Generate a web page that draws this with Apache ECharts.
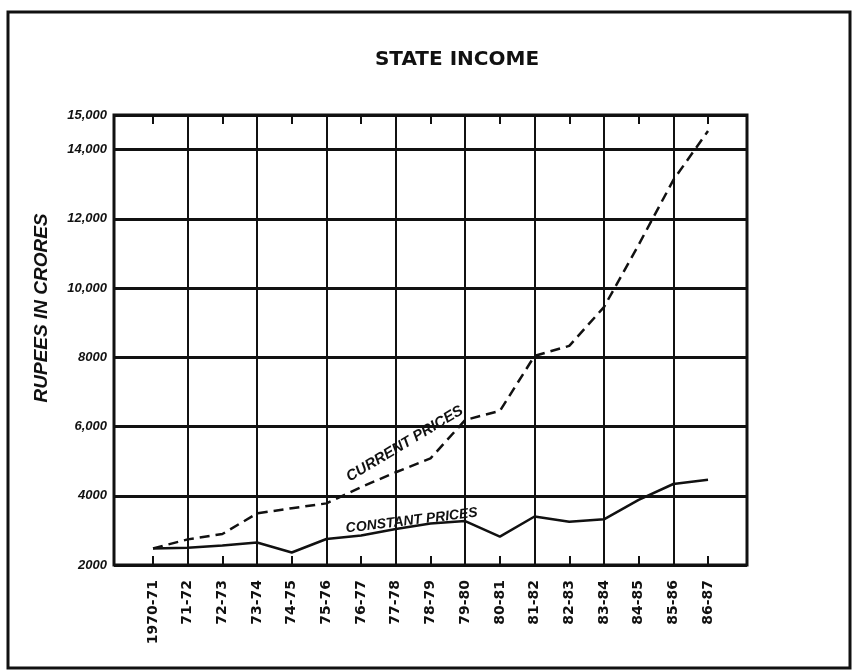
<!DOCTYPE html>
<html>
<head>
<meta charset="utf-8">
<script src="https://cdn.jsdelivr.net/npm/echarts@6/dist/echarts.min.js"></script>
<style>
html,body{margin:0;padding:0;background:#fff;}
#chart{width:853px;height:672px;}
</style>
</head>
<body>
<div id="chart"></div>
<script>
const categories = ['1970-71','71-72','72-73','73-74','74-75','75-76','76-77','77-78','78-79','79-80','80-81','81-82','82-83','83-84','84-85','85-86','86-87'];
const currentPrices = [2480, 2740, 2895, 3490, 3640, 3780, 4250, 4680, 5080, 6190, 6450, 8040, 8330, 9450, 11250, 13120, 14540];
const constantPrices = [2480, 2500, 2560, 2650, 2360, 2750, 2850, 3040, 3200, 3270, 2820, 3400, 3250, 3320, 3880, 4340, 4460];
const yTickValues = [2000, 4000, 6000, 8000, 10000, 12000, 14000, 15000];
const yTickLabels = ['2000', '4000', '6,000', '8000', '10,000', '12,000', '14,000', '15,000'];

const allIdx = categories.map((c, i) => i);
const evenIdx = allIdx.filter(i => i % 2 === 0);
const oddIdx = allIdx.filter(i => i % 2 === 1);

const chart = echarts.init(document.getElementById('chart'), null, {renderer: 'canvas'});
const ink = '#111';
const labelFont = 'Liberation Sans';

const baseX = {
  type: 'value', min: -1.124, max: 17.124, gridIndex: 0,
  axisLine: {show: false},
  splitLine: {show: false},
  axisLabel: {show: false},
  axisTick: {show: false}
};

const option = {
  backgroundColor: '#fff',
  animation: false,
  graphic: [
    {
      type: 'rect', shape: {x: 8, y: 12, width: 842, height: 656},
      style: {fill: 'none', stroke: ink, lineWidth: 3}, silent: true
    },
    {
      type: 'text', x: 457, y: 60, silent: true,
      style: {
        text: 'STATE INCOME', align: 'center', verticalAlign: 'middle',
        fontFamily: 'DejaVu Sans', fontWeight: 'bold', fontSize: 20, fill: ink
      }
    },
    {
      type: 'text', x: 42, y: 308, rotation: Math.PI / 2, silent: true,
      style: {
        text: 'RUPEES IN CRORES', align: 'center', verticalAlign: 'middle',
        fontFamily: labelFont, fontStyle: 'italic', fontWeight: 'bold', fontSize: 19, fill: ink
      }
    }
  ],
  grid: {
    left: 114, right: 106, top: 115, bottom: 107,
    show: true, borderColor: ink, borderWidth: 3, backgroundColor: 'transparent'
  },
  xAxis: [
    Object.assign({}, baseX, {
      position: 'bottom',
      axisTick: {show: true, inside: true, length: 9, customValues: allIdx, lineStyle: {color: ink, width: 2}},
      axisLabel: {
        show: true, customValues: allIdx, rotate: 90, margin: 15,
        formatter: v => categories[Math.round(v)],
        fontFamily: 'DejaVu Sans', fontWeight: 'bold', fontSize: 14, color: ink
      }
    }),
    Object.assign({}, baseX, {
      position: 'top',
      axisTick: {show: true, inside: true, length: 9, customValues: evenIdx, lineStyle: {color: ink, width: 2}}
    }),
    Object.assign({}, baseX, {
      position: 'top',
      axisTick: {show: false, customValues: oddIdx},
      splitLine: {show: true, lineStyle: {color: ink, width: 2}}
    })
  ],
  yAxis: {
    type: 'value', min: 2000, max: 15000, interval: 2000,
    axisLine: {show: false},
    axisTick: {show: false},
    axisLabel: {
      customValues: yTickValues,
      formatter: v => yTickLabels[yTickValues.indexOf(v)],
      margin: 7, fontFamily: labelFont, fontStyle: 'italic', fontWeight: 'bold', fontSize: 13, color: ink
    },
    splitLine: {show: true, lineStyle: {color: ink, width: 3}}
  },
  series: [
    {
      name: 'CURRENT PRICES', type: 'line', xAxisIndex: 0, yAxisIndex: 0,
      data: currentPrices.map((v, i) => [i, v]),
      symbol: 'none', z: 5,
      lineStyle: {color: ink, width: 2.5, type: [10, 6]},
      markPoint: {
        symbol: 'circle', symbolSize: 0, silent: true,
        data: [{coord: [7.26, 5500], value: 'CURRENT PRICES'}],
        label: {
          show: true, position: 'inside', rotate: 31, formatter: 'CURRENT PRICES',
          fontFamily: labelFont, fontStyle: 'italic', fontWeight: 'bold', fontSize: 15, color: ink
        }
      }
    },
    {
      name: 'CONSTANT PRICES', type: 'line', xAxisIndex: 0, yAxisIndex: 0,
      data: constantPrices.map((v, i) => [i, v]),
      symbol: 'none', z: 5,
      lineStyle: {color: ink, width: 2.5},
      markPoint: {
        symbol: 'circle', symbolSize: 0, silent: true,
        data: [{coord: [7.46, 3280], value: 'CONSTANT PRICES'}],
        label: {
          show: true, position: 'inside', rotate: 7, formatter: 'CONSTANT PRICES',
          fontFamily: labelFont, fontStyle: 'italic', fontWeight: 'bold', fontSize: 14, color: ink
        }
      }
    }
  ]
};
chart.setOption(option);
</script>
</body>
</html>
